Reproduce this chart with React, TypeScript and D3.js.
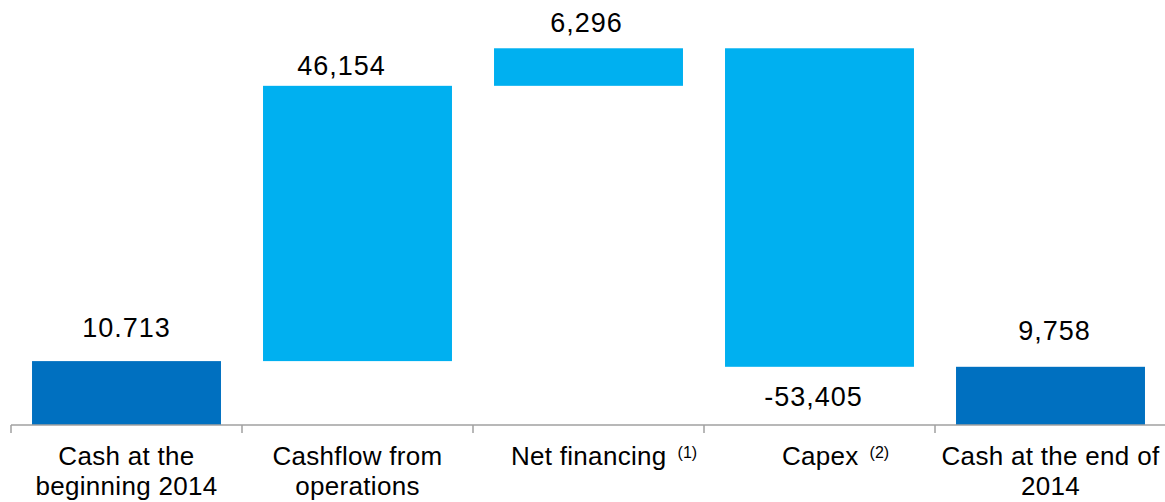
import React from "react";
import * as d3 from "d3";

// ---- data ----
const categories = ["Cash at the beginning 2014", "Cashflow from operations", "Net financing", "Capex", "Cash at the end of 2014"];
const labelLine1 = ["Cash at the", "Cashflow from", "Net financing", "Capex", "Cash at the end of"];
const labelLine2 = ["beginning 2014", "operations", "", "", "2014"];
const footnotes = ["", "", "(1)", "(2)", ""];
const values = [10.713, 46.154, 6.296, -53.405, 9.758];
const valueLabels = ["10.713", "46,154", "6,296", "-53,405", "9,758"];
const kinds = ["total", "delta", "delta", "delta", "total"];

// ---- layout constants ----
const W = 1165;
const H = 502;
const BASE_Y = 425;
const DARK = "#0070C0";
const LIGHT = "#00B0F0";
const FONT = "'Liberation Sans', Arial, Helvetica, sans-serif";
// manual label tweaks observed in the reference (dx, gap from bar edge)
const valueLabelDx = [0, -16, -2, -6, 4];
const valueLabelGap = [24, 11, 16, 39, 27];
const catLabelDx = [0, 0, 15.5, 16, 0];

export default function App() {
  const x = d3.scaleBand<string>().domain(categories).range([11, 11 + 231 * 5]).paddingInner(0.182).paddingOuter(0.091);
  const y = d3.scaleLinear().domain([0, 70]).range([BASE_Y, 7.5]);

  // waterfall computation
  let running = 0;
  const bars = values.map((v, i) => {
    let start: number, end: number;
    if (kinds[i] === "total") {
      start = 0;
      end = v;
      running = v;
    } else {
      start = running;
      end = running + v;
      running = end;
    }
    return { cat: categories[i], start, end, v, i };
  });

  const step = x.step();
  const left0 = x.range()[0];
  const boundaries = d3.range(categories.length + 1).map((k) => left0 + k * step);

  return (
    <svg width={W} height={H} style={{ position: "absolute", left: 0, top: 0, background: "#fff" }} fontFamily={FONT}>
      <rect width={W} height={H} fill="#fff" />
      {bars.map((b) => {
        const top = y(Math.max(b.start, b.end));
        const bot = y(Math.min(b.start, b.end));
        const cx = (x(b.cat) as number) + x.bandwidth() / 2;
        const neg = b.v < 0;
        const ly = neg ? bot + valueLabelGap[b.i] : top - valueLabelGap[b.i];
        return (
          <g key={b.cat}>
            <rect
              x={x(b.cat)}
              y={top}
              width={x.bandwidth()}
              height={bot - top}
              fill={kinds[b.i] === "total" ? DARK : LIGHT}
            />
            <text
              x={cx + valueLabelDx[b.i]}
              y={ly}
              textAnchor="middle"
              fontSize={27}
              letterSpacing={1}
              fill="#000"
            >
              {valueLabels[b.i]}
            </text>
          </g>
        );
      })}
      {/* axis */}
      <line x1={boundaries[0]} x2={W} y1={BASE_Y} y2={BASE_Y} stroke="#A0A0A0" strokeWidth={1.5} />
      {boundaries.map((bx, k) => (
        <line key={k} x1={bx} x2={bx} y1={BASE_Y} y2={BASE_Y + 8} stroke="#A0A0A0" strokeWidth={1.5} />
      ))}
      {categories.map((c, i) => {
        const cx = (x(c) as number) + x.bandwidth() / 2 + catLabelDx[i];
        return (
          <text key={c} x={cx} y={465} textAnchor="middle" fontSize={26} letterSpacing={0.3} fill="#000">
            <tspan>{labelLine1[i]}</tspan>
            {footnotes[i] ? (
              <tspan dx={11} dy={-7} fontSize={16} letterSpacing={0}>
                {footnotes[i]}
              </tspan>
            ) : null}
            {labelLine2[i] ? (
              <tspan x={cx} y={495}>
                {labelLine2[i]}
              </tspan>
            ) : null}
          </text>
        );
      })}
    </svg>
  );
}
